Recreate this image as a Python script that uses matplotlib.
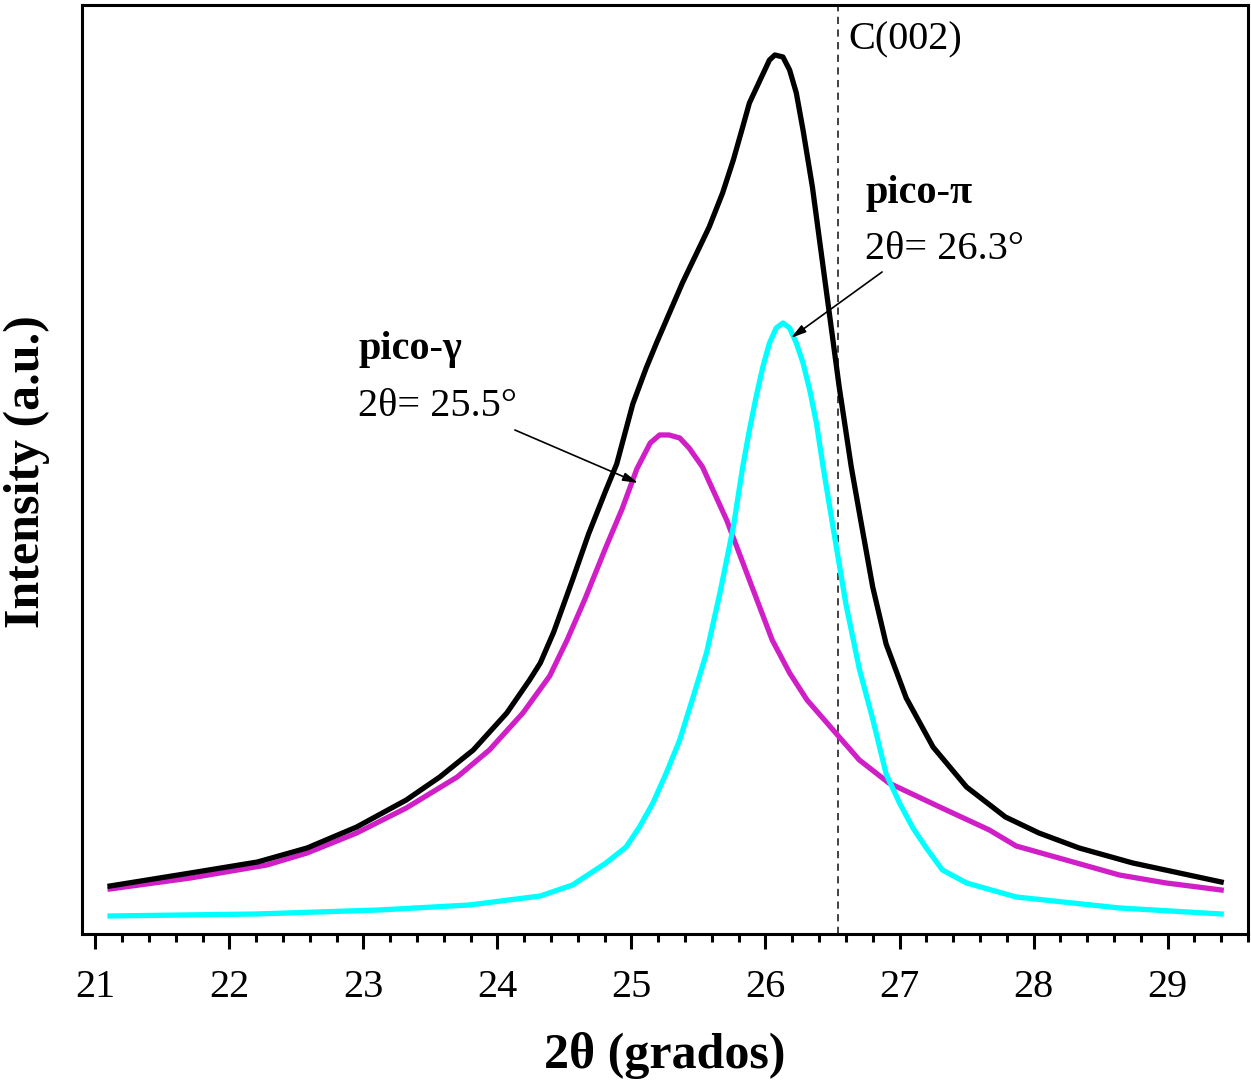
import matplotlib
matplotlib.use("Agg")
import matplotlib.pyplot as plt
from matplotlib.ticker import MultipleLocator

plt.rcParams["font.family"] = ["Liberation Serif", "DejaVu Serif"]

# 2theta (deg) vs intensity (arbitrary units)
total_x = [21.11, 21.71, 22.21, 22.58, 22.95, 23.32, 23.57, 23.82, 24.07, 24.24,
           24.32, 24.42, 24.56, 24.68, 24.81, 24.89, 25.01, 25.11, 25.19, 25.38,
           25.58, 25.68, 25.76, 25.83, 25.88, 25.96, 26.03, 26.07, 26.13, 26.18,
           26.23, 26.28, 26.35, 26.40, 26.45, 26.50, 26.55, 26.64, 26.71, 26.80,
           26.90, 27.05, 27.25, 27.50, 27.79, 28.04, 28.34, 28.74, 29.40]
total_y = [48, 61, 72, 86, 107, 134, 157, 184, 221, 254,
           271, 302, 354, 400, 444, 470, 530, 566, 592, 651,
           707, 741, 774, 807, 831, 854, 874, 879, 877, 864,
           841, 804, 747, 697, 647, 597, 547, 467, 414, 347,
           290, 236, 187, 147, 117, 101, 86, 71, 52]

gamma_x = [21.11, 21.71, 22.28, 22.58, 22.95, 23.32, 23.70, 23.94, 24.19, 24.39,
           24.52, 24.65, 24.81, 24.93, 25.04, 25.14, 25.21, 25.28, 25.36, 25.43,
           25.53, 25.71, 25.86, 26.05, 26.18, 26.31, 26.55, 26.70, 26.92, 27.30,
           27.67, 27.87, 28.64, 28.99, 29.40]
gamma_y = [45, 56, 69, 81, 101, 126, 157, 184, 221, 258,
           294, 334, 387, 425, 465, 491, 499, 499, 496, 486,
           467, 414, 361, 294, 261, 234, 197, 174, 151, 127,
           104, 88, 59, 51, 44]

pi_x = [21.11, 22.20, 23.12, 23.79, 24.32, 24.56, 24.81, 24.96, 25.06, 25.16,
        25.26, 25.36, 25.46, 25.56, 25.66, 25.76, 25.83, 25.88, 25.93, 25.98,
        26.03, 26.08, 26.13, 26.18, 26.23, 26.28, 26.33, 26.38, 26.43, 26.50,
        26.60, 26.70, 26.75, 26.80, 26.90, 27.00, 27.10, 27.20, 27.32, 27.50,
        27.87, 28.64, 29.40]
pi_y = [18, 20, 24, 29, 38, 49, 71, 87, 107, 131,
        161, 194, 237, 281, 341, 407, 467, 504, 537, 567,
        591, 606, 611, 606, 591, 571, 544, 511, 467, 410,
        330, 265, 240, 215, 160, 131, 106, 86, 64, 51,
        37, 26, 20]

c002_pos = 26.54

fig = plt.figure(figsize=(12.51, 10.8), dpi=100)
ax = fig.add_axes([0.0655, 0.1352, 0.9321, 0.8602])

ax.plot(total_x, total_y, color="black", lw=3.8, solid_joinstyle="round", zorder=3)
ax.plot(gamma_x, gamma_y, color="#d11fc8", lw=3.8, solid_joinstyle="round", zorder=2)
ax.plot(pi_x, pi_y, color="#00ffff", lw=3.8, solid_joinstyle="round", zorder=2)
ax.axvline(c002_pos, color="#333333", lw=1.3, ls=(0, (4, 3)), zorder=1)

ax.set_xlim(20.9, 29.6)
ax.set_ylim(0, 929)
ax.xaxis.set_major_locator(MultipleLocator(1))
ax.xaxis.set_minor_locator(MultipleLocator(0.2))
ax.set_yticks([])
ax.tick_params(axis="x", which="major", direction="out", length=11, width=2.2,
               labelsize=29, pad=14)
ax.tick_params(axis="x", which="minor", direction="out", length=5.5, width=2.2)
for spine in ax.spines.values():
    spine.set_linewidth(2.2)

ax.set_xlabel("2θ (grados)", fontsize=36, fontweight="bold", labelpad=19)
ax.set_ylabel("Intensity (a.u.)", fontsize=36, fontweight="bold")
ax.yaxis.set_label_coords(-0.0275, 0.498)

ax.text(26.62, 894, "C(002)", fontsize=29, ha="left", va="center")

ax.text(22.96, 584, "pico-γ", fontsize=29, fontweight="bold", ha="left", va="center")
ax.text(22.96, 527, "2θ= 25.5°", fontsize=29, ha="left", va="center")
ax.annotate("", xy=(25.05, 451), xytext=(24.13, 504),
            arrowprops=dict(arrowstyle="-|>,head_length=0.9,head_width=0.25",
                            color="black", lw=1.2, shrinkA=0, shrinkB=0), zorder=5)

ax.text(26.745, 740, "pico-π", fontsize=29, fontweight="bold", ha="left", va="center")
ax.text(26.74, 684, "2θ= 26.3°", fontsize=29, ha="left", va="center")
ax.annotate("", xy=(26.19, 596), xytext=(26.87, 662),
            arrowprops=dict(arrowstyle="-|>,head_length=0.9,head_width=0.25",
                            color="black", lw=1.2, shrinkA=0, shrinkB=0), zorder=5)

fig.savefig("out.png", dpi=100)
